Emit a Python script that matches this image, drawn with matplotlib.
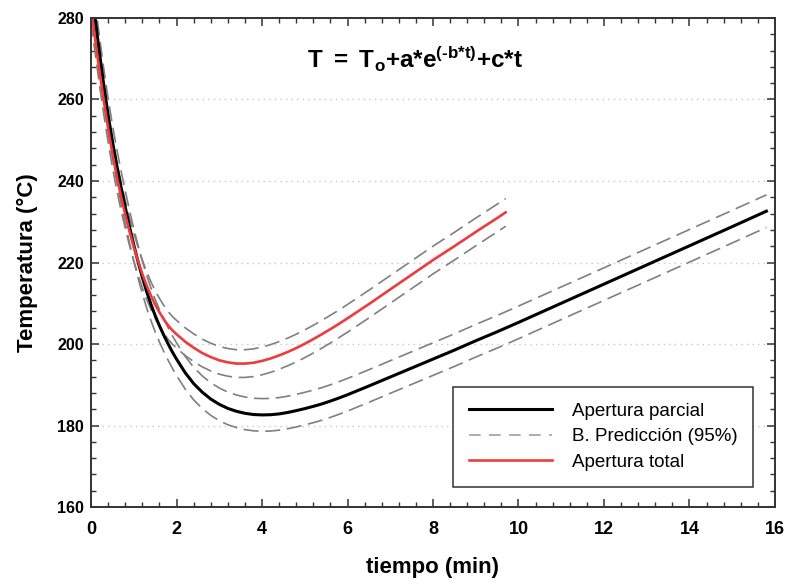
import matplotlib
matplotlib.use("Agg")
import matplotlib.pyplot as plt
from matplotlib.ticker import MultipleLocator

# ---------------- data ----------------
parcial_t = [0, 0.1, 0.2, 0.3, 0.4, 0.5, 0.6, 0.7, 0.8, 0.9, 1.0, 1.1, 1.2, 1.3, 1.4, 1.5,
             1.6, 1.7, 1.8, 1.9, 2.0,
             2.2, 2.4, 2.6, 2.8, 3.0, 3.2, 3.4, 3.6, 3.8, 4.0, 4.2, 4.4, 4.6, 4.8, 5.0,
             5.2, 5.4, 5.6, 5.8, 6.0,
             6.5, 7.0, 7.5, 8.0, 8.5, 9.0, 9.5, 10.0,
             11, 12, 13, 14, 15, 15.8]
parcial_T = [288.5, 279.6, 271.2, 263.4, 256.2, 249.8, 244.0, 238.6, 233.6, 228.8, 224.3,
             220.2, 216.4, 212.9, 209.8, 207.0, 204.5, 202.2, 200.1, 198.1, 196.3,
             193.0, 190.3, 188.2, 186.5, 185.2, 184.2, 183.5, 183.0, 182.7, 182.6, 182.65,
             182.85, 183.2, 183.65, 184.15, 184.7, 185.3, 186.0, 186.75, 187.55,
             189.7, 191.9, 194.1, 196.3, 198.5, 200.8, 203.0, 205.3,
             210.0, 214.7, 219.4, 224.1, 228.8, 232.6]
parcial_up = [292.5, 283.6, 275.2, 267.4, 260.2, 253.8, 248.0, 242.6, 237.6, 232.8, 228.3,
              224.2, 220.4, 216.9, 213.8, 211.0, 208.5, 206.2, 204.1, 202.1, 200.3,
              197.0, 194.3, 192.2, 190.5, 189.2, 188.2, 187.5, 187.0, 186.7, 186.6, 186.65,
              186.85, 187.2, 187.65, 188.15, 188.7, 189.3, 190.0, 190.75, 191.55,
              193.7, 195.9, 198.1, 200.3, 202.5, 204.8, 207.0, 209.3,
              214.0, 218.7, 223.4, 228.1, 232.8, 236.6]
parcial_lo = [284.5, 275.6, 267.2, 259.4, 252.2, 245.8, 240.0, 234.6, 229.6, 224.8, 220.3,
              216.2, 212.4, 208.9, 205.8, 203.0, 200.5, 198.2, 196.1, 194.1, 192.3,
              189.0, 186.3, 184.2, 182.5, 181.2, 180.2, 179.5, 179.0, 178.7, 178.6, 178.65,
              178.85, 179.2, 179.65, 180.15, 180.7, 181.3, 182.0, 182.75, 183.55,
              185.7, 187.9, 190.1, 192.3, 194.5, 196.8, 199.0, 201.3,
              206.0, 210.7, 215.4, 220.1, 224.8, 228.6]

total_t = [0, 0.1, 0.2, 0.3, 0.4, 0.5, 0.6, 0.7, 0.8, 0.9, 1.0, 1.1, 1.2, 1.3, 1.4, 1.5,
           1.6, 1.7, 1.8, 1.9, 2.0,
           2.2, 2.4, 2.6, 2.8, 3.0, 3.2, 3.4, 3.6, 3.8, 4.0, 4.2, 4.4, 4.6, 4.8, 5.0,
           5.2, 5.4, 5.6, 5.8, 6.0,
           6.5, 7.0, 7.5, 8.0, 8.5, 9.0, 9.5, 9.7]
total_T = [282.5, 274.5, 266.8, 259.6, 252.9, 246.8, 241.3, 236.3, 231.8, 227.6, 223.8,
           220.4, 217.2, 214.4, 211.9, 209.7, 207.8, 206.1, 204.6, 203.4, 202.4,
           200.6, 199.1, 197.8, 196.8, 196.0, 195.5, 195.2, 195.2, 195.4, 195.85, 196.45,
           197.2, 198.05, 199.0, 200.05, 201.2, 202.4, 203.65, 204.95, 206.3,
           209.8, 213.4, 217.0, 220.6, 224.0, 227.5, 230.9, 232.3]
total_up = [285.9, 277.9, 270.2, 263.0, 256.3, 250.2, 244.7, 239.7, 235.2, 231.0, 227.2,
            223.8, 220.6, 217.8, 215.3, 213.1, 211.2, 209.5, 208.0, 206.8, 205.8,
            204.0, 202.5, 201.2, 200.2, 199.4, 198.9, 198.6, 198.6, 198.8, 199.25, 199.85,
            200.6, 201.45, 202.4, 203.45, 204.6, 205.8, 207.05, 208.35, 209.7,
            213.2, 216.8, 220.4, 224.0, 227.4, 230.9, 234.3, 235.7]
total_lo = [279.1, 271.1, 263.4, 256.2, 249.5, 243.4, 237.9, 232.9, 228.4, 224.2, 220.4,
            217.0, 213.8, 211.0, 208.5, 206.3, 204.4, 202.7, 201.2, 200.0, 199.0,
            197.2, 195.7, 194.4, 193.4, 192.6, 192.1, 191.8, 191.8, 192.0, 192.45, 193.05,
            193.8, 194.65, 195.6, 196.65, 197.8, 199.0, 200.25, 201.55, 202.9,
            206.4, 210.0, 213.6, 217.2, 220.6, 224.1, 227.5, 228.9]

labels = ["Apertura parcial", "B. Predicción (95%)", "Apertura total"]
x_ticks = [0, 2, 4, 6, 8, 10, 12, 14, 16]
y_ticks = [160, 180, 200, 220, 240, 260, 280]

# ---------------- style ----------------
plt.rcParams["font.family"] = ["Liberation Sans", "DejaVu Sans"]
plt.rcParams["mathtext.fontset"] = "custom"
plt.rcParams["mathtext.rm"] = "Liberation Sans:bold"
plt.rcParams["mathtext.bf"] = "Liberation Sans:bold"
plt.rcParams["mathtext.it"] = "Liberation Sans:bold"

fig = plt.figure(figsize=(7.95, 5.84), dpi=100)
ax = fig.add_axes([0.1145, 0.1318, 0.8603, 0.8374])

band_kw = dict(color="#808080", lw=1.2, dashes=(9, 4))
ax.plot(parcial_t, parcial_up, **band_kw)
ax.plot(parcial_t, parcial_lo, **band_kw)
ax.plot(total_t, total_up, **band_kw)
ax.plot(total_t, total_lo, **band_kw)
l1, = ax.plot(parcial_t, parcial_T, color="black", lw=2.2, solid_joinstyle="round")
l3, = ax.plot(total_t, total_T, color="#ee3b3b", lw=1.9, solid_joinstyle="round")
l2, = ax.plot([], [], color="#a0a0a0", lw=1.2, dashes=(7, 5))

ax.set_xlim(0, 16)
ax.set_ylim(160, 280)
ax.set_xticks(x_ticks)
ax.set_yticks(y_ticks)
ax.xaxis.set_minor_locator(MultipleLocator(0.4))
ax.yaxis.set_minor_locator(MultipleLocator(4))
ax.tick_params(which="both", direction="in", top=True, right=True, color="#333333")
ax.tick_params(which="major", length=6, width=1.1)
ax.tick_params(which="minor", length=3.5, width=1.0)
ax.tick_params(axis="x", which="major", pad=10)
ax.tick_params(axis="y", which="major", pad=5)
for s in ax.spines.values():
    s.set_linewidth(1.4)
    s.set_color("#333333")

for lab in ax.get_xticklabels():
    lab.set_fontweight("bold")
    lab.set_fontsize(13)
for lab in ax.get_yticklabels():
    lab.set_fontweight("bold")
    lab.set_fontsize(11.5)

ax.yaxis.grid(True, which="major", color="#c8c8c8", lw=1.0, linestyle=(0, (1, 3)))
ax.set_axisbelow(True)

ax.set_xlabel("tiempo (min)", fontweight="bold", fontsize=16, labelpad=14)
ax.set_ylabel("Temperatura (°C)", fontweight="bold", fontsize=16, labelpad=14)

ax.text(0.474, 0.915, r"$\mathbf{T\ =\ T_o{+}a{*}e^{(\text{-}b{*}t)}{+}c{*}t}$",
        transform=ax.transAxes, ha="center", va="center", fontsize=17.5)

leg = ax.legend([l1, l2, l3], labels, loc="lower right", bbox_to_anchor=(0.968, 0.041),
                borderaxespad=0, fancybox=False, edgecolor="#333333", framealpha=1,
                fontsize=13.5, handlelength=4.4, handletextpad=1.05, labelspacing=0.45,
                borderpad=0.85)
leg.get_frame().set_linewidth(1.1)

fig.savefig("out.png", dpi=100)
